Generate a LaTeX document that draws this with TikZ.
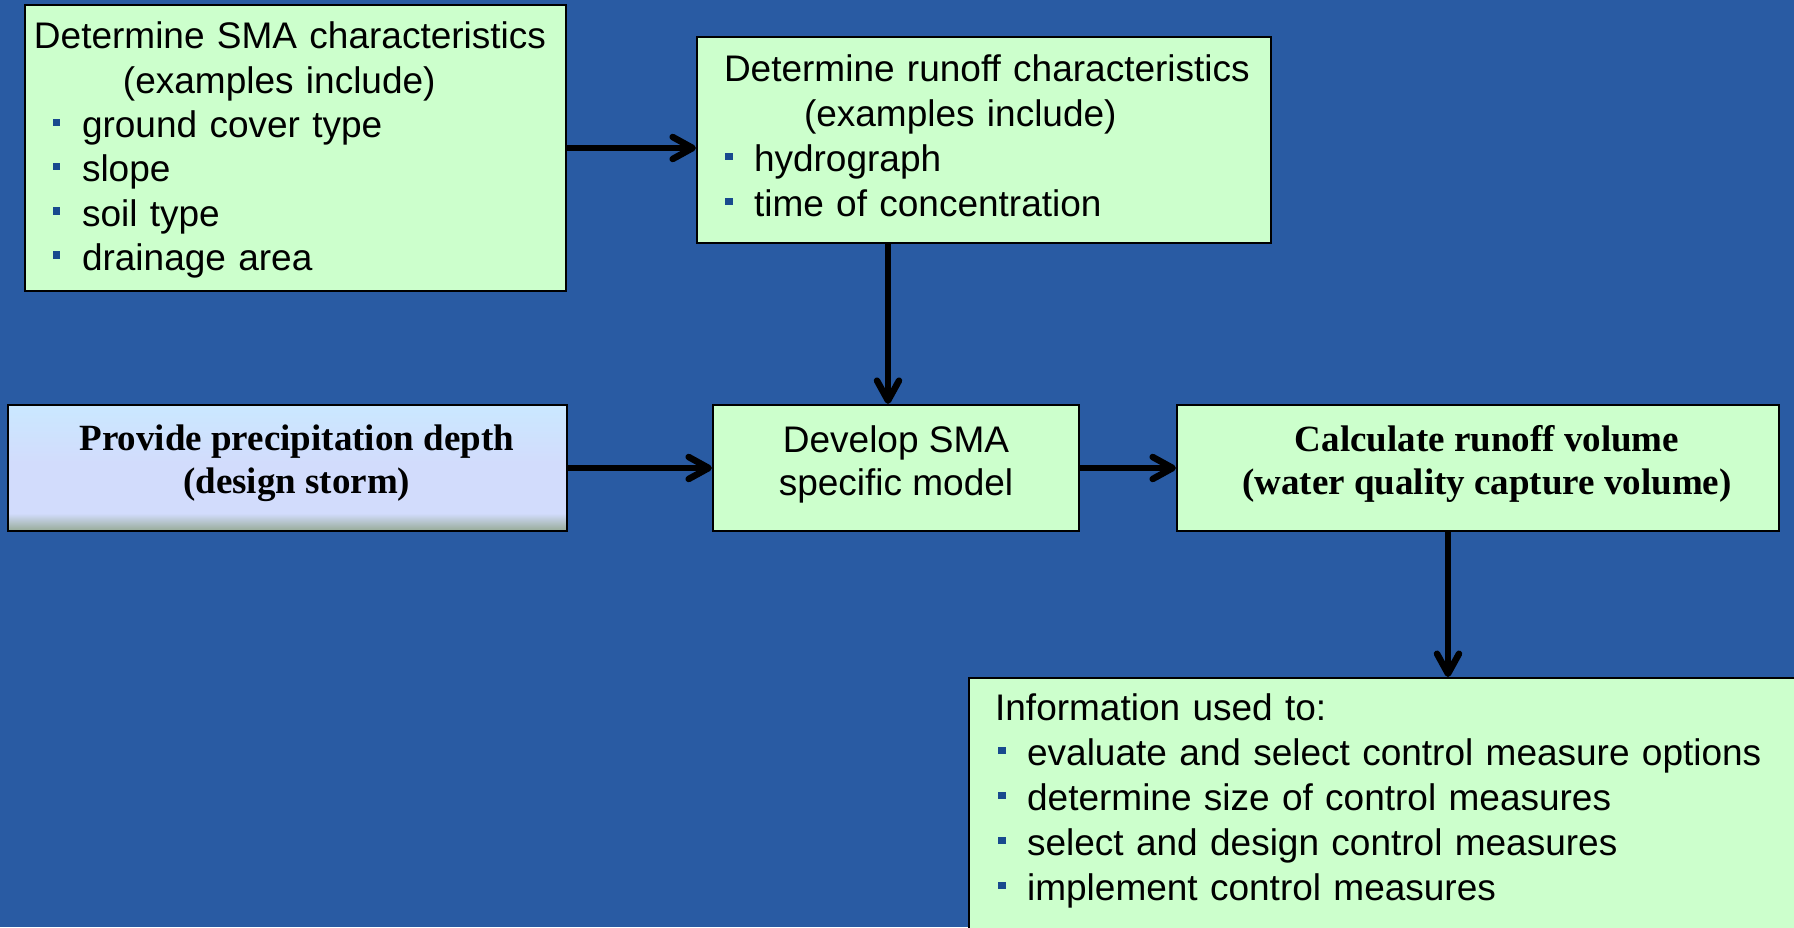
\documentclass[tikz,border=0pt]{standalone}
\usepackage{fontspec}
\setmainfont{Liberation Sans}
\newfontfamily\timesfont{Liberation Serif}
\usetikzlibrary{arrows.meta}
\definecolor{slide}{RGB}{41,91,163}
\definecolor{mint}{RGB}{204,255,204}
\definecolor{dot}{RGB}{24,74,142}
\definecolor{skytop}{RGB}{202,232,255}
\definecolor{skymid}{RGB}{210,220,252}
\definecolor{skybot}{RGB}{150,170,150}
\pgfdeclareverticalshading{sky}{100bp}{color(0bp)=(skybot); color(25bp)=(skybot); color(32bp)=(skymid); color(52bp)=(skymid); color(75bp)=(skytop); color(100bp)=(skytop)}
\newcommand{\sq}{\textcolor{dot}{\rule[11.5pt]{7.5pt}{7.5pt}}}
\newcommand{\itm}[2][0pt]{\hspace*{#1}\makebox[29pt][l]{\sq}#2}
\newcommand{\pad}[1]{\rule[-#1]{0pt}{#1}}
\tikzset{
  box/.style={draw=black, line width=2.2pt, fill=mint, inner ysep=0pt,
    font=\fontsize{37}{45}\selectfont},
  serifbox/.style={box, align=center,
    font=\timesfont\bfseries\fontsize{37}{43}\selectfont},
  flow/.style={line width=6.5pt, -{Straight Barb[round,length=20pt,width=22pt]}}
}
\begin{document}
\begin{tikzpicture}[x=1pt,y=-1pt]
\useasboundingbox (0,0) rectangle (1794,927);
\fill[slide] (0,0) rectangle (1794,927);
\clip (0,0) rectangle (1794,927);
%
\node[box, minimum width=541pt, minimum height=286pt, text width=523pt, inner xsep=9pt, align=left,
  font=\fontsize{37}{44.3}\selectfont] (sma) at (295.5,148)
  {\rule{0pt}{31pt}Determine SMA characteristics\\ \hspace*{89pt}(examples include)\\
   \itm[19pt]{ground cover type}\\ \itm[19pt]{slope}\\ \itm[19pt]{soil type}\\ \itm[19pt]{drainage area}};
\node[box, minimum width=574pt, minimum height=206pt, text width=526pt, inner xsep=24pt, align=left] (runoff) at (984,140)
  {\mbox{\hspace{3pt}Determine runoff characteristics}\\ \hspace*{83pt}(examples include)\\
   \itm[4pt]{hydrograph}\\ \itm[4pt]{time of concentration}\pad{8pt}};
%
\node[serifbox, shade, shading=sky, minimum width=559pt, minimum height=126pt] (precip) at (287.7,468)
  {\hspace*{18pt}Provide precipitation depth\\ \hspace*{18pt}(design storm)\pad{17pt}};
\node[box, minimum width=366pt, minimum height=126pt, align=center, font=\fontsize{37}{43}\selectfont] (develop) at (896,468)
  {Develop SMA\\specific model\pad{15pt}};
\node[serifbox, minimum width=602pt, minimum height=126pt] (calc) at (1478,468)
  {\hspace*{18pt}Calculate runoff volume\\ \hspace*{18pt}(water quality capture volume)\pad{17pt}};
%
\node[box, anchor=north west, text width=800pt, inner xsep=26pt, inner ysep=16pt, align=left] (info) at (968,677)
  {Information used to:\\ \itm[3pt]{evaluate and select control measure options}\\
   \itm[3pt]{determine size of control measures}\\ \itm[3pt]{select and design control measures}\\
   \itm[3pt]{implement control measures}\pad{90pt}};
%
\draw[flow] (sma.east) -- (sma.east -| runoff.west);
\draw[flow] ([xshift=-8pt]develop.north |- runoff.south) -- ([xshift=-8pt]develop.north);
\draw[flow] (precip.east) -- (develop.west);
\draw[flow] (develop.east) -- (calc.west);
\draw[flow] ([xshift=-30pt]calc.south) -- ([xshift=-30pt]calc.south |- info.north);
\end{tikzpicture}
\end{document}
